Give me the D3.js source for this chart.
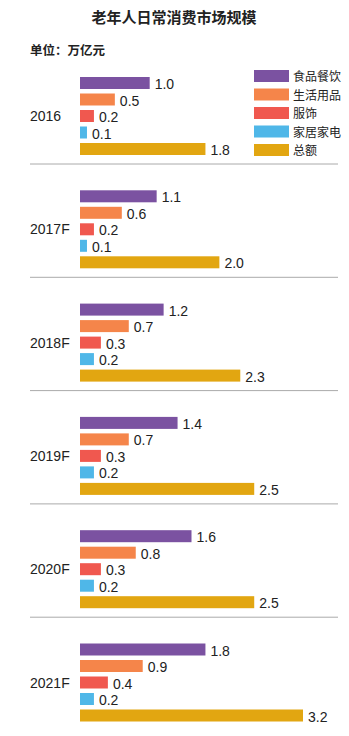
<!DOCTYPE html>
<head>
<meta charset="utf-8">
<title>老年人日常消费市场规模</title>
<script src="https://cdn.jsdelivr.net/npm/d3@7"></script>
<style>
  body { margin: 0; background: #fff; }
  text { font-family: "Liberation Sans", "Noto Sans CJK SC", sans-serif; fill: #222; }
</style>
</head>
<body>
<div id="container"></div>
<script>
// Données
const years = ["2016", "2017F", "2018F", "2019F", "2020F", "2021F"];
const series = ["食品餐饮", "生活用品", "服饰", "家居家电", "总额"];
const shipin = [1.0, 1.1, 1.2, 1.4, 1.6, 1.8];
const shenghuo = [0.5, 0.6, 0.7, 0.7, 0.8, 0.9];
const fushi = [0.2, 0.2, 0.3, 0.3, 0.3, 0.4];
const jiaju = [0.1, 0.1, 0.2, 0.2, 0.2, 0.2];
const zonge = [1.8, 2.0, 2.3, 2.5, 2.5, 3.2];
const colors = ["#7b52a1", "#f5854a", "#f0584f", "#4fb7e8", "#e2a611"];

const values = [shipin, shenghuo, fushi, jiaju, zonge];
const data = years.map((y, i) => ({
  year: y,
  vals: series.map((s, j) => ({ key: s, v: values[j][i] }))
}));

const width = 349, height = 736;
const svg = d3.select("#container").append("svg")
  .attr("width", width).attr("height", height);

// Titre
svg.append("text").attr("x", 174).attr("y", 23)
  .attr("text-anchor", "middle").style("font-size", "15px").style("font-weight", "bold")
  .text("老年人日常消费市场规模");
svg.append("text").attr("x", 30).attr("y", 55)
  .style("font-size", "12.5px").style("font-weight", "bold")
  .text("单位：万亿元");

// Échelles
const x0 = 80;
const x = d3.scaleLinear().domain([0, 3.2]).range([0, 223]);
const yGroup = d3.scaleBand().domain(years).range([64, 64 + 6 * 113.3]).padding(0);
const yInner = d3.scaleBand().domain(series).range([13, 91]).paddingInner(4.5 / 16.5).paddingOuter(0);
const color = d3.scaleOrdinal().domain(series).range(colors);

const groups = svg.selectAll(".grp").data(data).enter().append("g")
  .attr("class", "grp")
  .attr("transform", d => `translate(0,${yGroup(d.year)})`);

groups.selectAll("rect").data(d => d.vals).enter().append("rect")
  .attr("x", x0)
  .attr("y", d => yInner(d.key))
  .attr("width", d => x(d.v))
  .attr("height", yInner.bandwidth())
  .attr("fill", d => color(d.key));

groups.selectAll(".val").data(d => d.vals).enter().append("text")
  .attr("class", "val")
  .attr("x", d => x0 + x(d.v) + 5)
  .attr("y", d => yInner(d.key) + yInner.bandwidth() / 2 + 6)
  .style("font-size", "14px")
  .text(d => d3.format(".1f")(d.v));

groups.append("text")
  .attr("x", 30)
  .attr("y", yInner("服饰") + yInner.bandwidth() / 2 + 5)
  .style("font-size", "14px")
  .text(d => d.year);

// Séparateurs
groups.filter((d, i) => i < years.length - 1).append("line")
  .attr("x1", 30).attr("x2", 338)
  .attr("y1", 100).attr("y2", 100)
  .attr("stroke", "#aaa").attr("stroke-width", 1);

// Légende
const leg = svg.append("g").selectAll("g").data(series).enter().append("g")
  .attr("transform", (d, i) => `translate(254,${70 + i * 18.5})`);
leg.append("rect").attr("width", 35).attr("height", 12).attr("fill", d => color(d));
leg.append("text").attr("x", 39).attr("y", 11).style("font-size", "12px").text(d => d);
</script>
</body>
